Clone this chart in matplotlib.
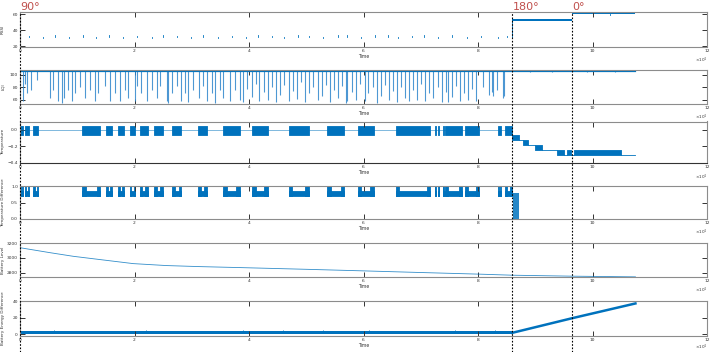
import matplotlib
matplotlib.use('Agg')
import matplotlib.pyplot as plt
import matplotlib.transforms as mtransforms
from matplotlib.lines import Line2D

BLUE = '#0072BD'  # MATLAB default line colour
LIGHT_BLUE = '#2F86CC'
RED = '#C0504D'

# Time axis is in units of 1e4
t_marks = [0.0, 8.6, 9.65]          # orientation changes
mark_labels = ['90°', '180°', '0°']
t_end = 10.75

# RSSI: (start, end, low, high) bands and small spikes (t, value)
rssi_bands = [(0.0, 8.6, 31.6, 32.4), (8.6, 9.65, 52.2, 54.0), (9.65, 10.75, 60.6, 61.6)]
rssi_spikes = [(0.15, 33.5), (0.4, 30.5), (0.62, 34.0), (0.85, 31.0), (1.1, 33.8), (1.32, 30.8),
               (1.55, 34.2), (1.8, 31.0), (2.05, 33.6), (2.3, 30.6), (2.5, 34.0), (2.75, 33.2),
               (2.98, 30.8), (3.2, 33.9), (3.45, 31.0), (3.7, 33.5), (3.95, 30.7), (4.15, 34.1),
               (4.4, 33.2), (4.62, 30.9), (4.85, 34.3), (5.05, 33.6), (5.3, 31.0), (5.55, 34.0),
               (5.72, 34.5), (5.95, 30.8), (6.2, 33.8), (6.42, 34.4), (6.6, 31.0), (6.85, 33.7),
               (7.05, 34.0), (7.3, 30.8), (7.55, 33.9), (7.8, 31.1), (8.05, 33.6), (8.35, 30.9),
               (8.5, 33.5), (9.8, 60.0), (10.05, 60.2), (10.3, 59.8), (10.55, 60.1)]

# LQI: baseline and dips (t, min value)
lqi_base = 107
lqi_dips = [(0.05, 58), (0.09, 85), (0.13, 70), (0.20, 75), (0.29, 92), (0.52, 63), (0.57, 75),
            (0.67, 58), (0.73, 55), (0.76, 62), (0.84, 75), (0.90, 58), (0.96, 70), (1.05, 80),
            (1.14, 62), (1.22, 75), (1.31, 58), (1.37, 70), (1.48, 82), (1.57, 58), (1.66, 70),
            (1.75, 58), (1.83, 75), (1.89, 62), (2.01, 58), (2.04, 82), (2.12, 70), (2.21, 58),
            (2.30, 75), (2.39, 62), (2.45, 82), (2.56, 58), (2.59, 55), (2.65, 70), (2.74, 82),
            (2.82, 58), (2.88, 70), (2.94, 57), (3.03, 75), (3.12, 62), (3.20, 82), (3.26, 58),
            (3.35, 70), (3.41, 55), (3.49, 75), (3.55, 62), (3.67, 58), (3.76, 75), (3.84, 60),
            (3.90, 56), (3.97, 78), (4.05, 64), (4.12, 86), (4.18, 58), (4.26, 72), (4.33, 60),
            (4.40, 80), (4.47, 57), (4.55, 68), (4.62, 84), (4.70, 58), (4.76, 74), (4.84, 61),
            (4.91, 88), (4.98, 57), (5.05, 70), (5.12, 80), (5.20, 59), (5.27, 66), (5.34, 84),
            (5.41, 57), (5.48, 75), (5.55, 62), (5.62, 82), (5.70, 55), (5.72, 58), (5.80, 72),
            (5.87, 60), (5.94, 86), (6.02, 58), (6.08, 70), (6.16, 80), (6.23, 55), (6.30, 66),
            (6.37, 84), (6.44, 60), (6.52, 74), (6.59, 57), (6.66, 80), (6.73, 63), (6.80, 58),
            (6.87, 76), (6.94, 60), (7.01, 85), (7.08, 58), (7.15, 70), (7.22, 62), (7.30, 80),
            (7.37, 57), (7.44, 72), (7.48, 56), (7.55, 64), (7.62, 82), (7.69, 58), (7.76, 70),
            (7.83, 60), (7.90, 78), (7.97, 58), (8.09, 80), (8.20, 68), (8.24, 72), (8.27, 66),
            (8.34, 76), (8.43, 62), (8.46, 66), (8.9, 104), (9.3, 104), (9.9, 104), (10.4, 104)]

# Temperature: oscillating blocks (start, end) before the rotation, staircase after
temp_blocks = [(0.0, 0.05), (0.09, 0.16), (0.23, 0.32), (1.09, 1.40), (1.50, 1.60), (1.72, 1.82),
               (1.92, 2.01), (2.10, 2.23), (2.34, 2.50), (2.65, 2.82), (3.11, 3.27), (3.55, 3.84),
               (4.06, 4.33), (4.69, 5.04), (5.37, 5.66), (5.90, 6.18), (6.56, 7.17), (7.25, 7.26),
               (7.31, 7.32), (7.39, 7.40), (7.42, 7.72), (7.77, 8.02), (8.35, 8.40), (8.47, 8.60)]
temp_block_range = (-0.06, 0.045)
temp_steps = [(8.60, 8.72, -0.125, -0.0625), (8.72, 8.79, -0.125, -0.125),
              (8.79, 8.88, -0.1875, -0.125), (8.88, 8.99, -0.1875, -0.1875),
              (8.99, 9.12, -0.25, -0.1875), (9.12, 9.38, -0.25, -0.25),
              (9.38, 9.50, -0.3125, -0.25), (9.50, 9.56, -0.3125, -0.3125),
              (9.56, 9.62, -0.3125, -0.25), (9.62, 9.67, -0.3125, -0.3125),
              (9.67, 10.50, -0.3125, -0.25), (10.50, 10.75, -0.3125, -0.3125)]

# Temperature difference: same blocks, U-shaped between 0.7 and 1
tdiff_low, tdiff_mid, tdiff_base = 0.7, 0.85, 1.0
tdiff_drop = (8.62, 8.72, 0.8)   # vertical bars as it falls to 0

# Battery level
batt_t = [0.0, 0.52, 0.93, 1.40, 1.98, 2.56, 3.14, 3.84, 5.0, 6.0, 7.0, 8.03, 8.6, 9.65, 10.75]
batt_v = [3137, 3071, 3022, 2978, 2924, 2898, 2884, 2871, 2848, 2827, 2805, 2783, 2769, 2756, 2747]

# Battery energy difference
energy_band = (0.0, 8.6, 0.4, 3.2)
energy_spikes = [(0.6, 4.5), (1.3, 4.2), (2.2, 4.8), (3.0, 4.3), (3.9, 4.6), (4.6, 5.2),
                 (5.3, 4.4), (6.1, 4.7), (6.9, 4.3), (7.6, 4.9), (8.3, 4.4)]
energy_t = [8.6, 9.65, 10.75]
energy_v = [1.5, 19.5, 37.5]

ylabels = ['RSSI', 'LQI', 'Temperature', 'Temperature Difference', 'Battery Level',
           'Battery Energy Difference']
ylims = [(20, 63), (53, 108), (-0.4, 0.1), (0, 1.02), (2745, 3200), (-1.8, 40.5)]
yticks = [[20, 40, 60], [60, 80, 100], [-0.4, -0.2, 0], [0, 0.5, 1], [2800, 3000, 3200],
          [0, 20, 40]]

W, H = 714, 352
fig = plt.figure(figsize=(W / 100, H / 100), dpi=100)
tops = [12, 70, 121.5, 185.5, 243, 301]
bottoms = [46.5, 104, 162.5, 219, 277, 335.5]
axes = []
for top, bot in zip(tops, bottoms):
    axes.append(fig.add_axes([20 / W, 1 - bot / H, 687 / W, (bot - top) / H]))

for i, (ax, lab, yl, yt) in enumerate(zip(axes, ylabels, ylims, yticks)):
    ax.set_xlim(0, 12)
    ax.set_ylim(*yl)
    ax.set_xticks(range(0, 13, 2))
    ax.set_yticks(yt)
    ax.tick_params(direction='in', length=3.5, width=0.7, labelsize=3.2, pad=1.5,
                   top=True, right=True, color='#333333', labelcolor='#333333')
    ax.set_xlabel('Time', fontsize=3.3, labelpad=1, color='#333333')
    ax.set_ylabel(lab, fontsize=3.0, labelpad=1, color='#333333')
    ax.yaxis.set_label_coords(-0.022, 0.5)
    for sp in ax.spines.values():
        sp.set_color('#8c8c8c')
        sp.set_linewidth(0.8)
    # last panel sits near the figure edge, keep its exponent inside
    ax.text(1.0, -0.26 if i < len(axes) - 1 else -0.2, r'$\times10^4$', transform=ax.transAxes,
            fontsize=3.0, ha='right', va='top', color='#333333')

# RSSI
ax = axes[0]
for s, e, lo, hi in rssi_bands:
    ax.fill_between([s, e], [lo, lo], [hi, hi], color=BLUE, lw=0)
ax.plot([rssi_bands[0][1], rssi_bands[1][0]], [rssi_bands[0][3], rssi_bands[1][2]], color=BLUE, lw=0.6)
for t, v in rssi_spikes:
    base = [b for b in rssi_bands if b[0] <= t < b[1]][0]
    ax.plot([t, t], [(base[2] + base[3]) / 2, v], color=BLUE, lw=0.6)

# LQI
ax = axes[1]
ax.vlines([d[0] for d in lqi_dips], [d[1] for d in lqi_dips], lqi_base, color=LIGHT_BLUE,
          lw=0.8, alpha=0.85)
ax.plot([0, t_end], [lqi_base, lqi_base], color=BLUE, lw=1.6)

# Temperature
ax = axes[2]
ax.plot([0, t_marks[1]], [0, 0], color=BLUE, lw=0.5, alpha=0.7)
for s, e in temp_blocks:
    ax.fill_between([s, e], temp_block_range[0], temp_block_range[1], color=BLUE, lw=0.6,
                    edgecolor=BLUE)
for s, e, lo, hi in temp_steps:
    if lo == hi:
        ax.plot([s, e], [lo, lo], color=BLUE, lw=0.6)
    else:
        ax.fill_between([s, e], lo, hi, color=BLUE, lw=0.6, edgecolor=BLUE)
ax.spines['bottom'].set_color('#333333')

# Temperature difference
ax = axes[3]
ax.plot([0, t_marks[1]], [tdiff_base, tdiff_base], color=BLUE, lw=0.6)
for s, e in temp_blocks:
    edge = min(0.3 * (e - s), 0.06)
    ax.fill_between([s, e], tdiff_low, tdiff_mid, color=BLUE, lw=0.6, edgecolor=BLUE)
    ax.fill_between([s, s + edge], tdiff_low, tdiff_base, color=BLUE, lw=0.6, edgecolor=BLUE)
    ax.fill_between([e - edge, e], tdiff_low, tdiff_base, color=BLUE, lw=0.6, edgecolor=BLUE)
ax.fill_between([tdiff_drop[0], tdiff_drop[1]], 0, tdiff_drop[2], color=BLUE, lw=0, alpha=0.85)
ax.plot([tdiff_drop[1], t_end], [0.01, 0.01], color=BLUE, lw=0.6)

# Battery level
axes[4].plot(batt_t, batt_v, color=BLUE, lw=0.6, alpha=0.8)

# Battery energy difference
ax = axes[5]
s, e, lo, hi = energy_band
ax.fill_between([s, e], lo, hi, color=BLUE, lw=0)
ax.vlines([p[0] for p in energy_spikes], hi, [p[1] for p in energy_spikes], color=BLUE, lw=0.6)
ax.plot(energy_t, energy_v, color=BLUE, lw=1.8)

# Orientation markers spanning all panels
trans = mtransforms.blended_transform_factory(axes[0].transData, fig.transFigure)
for t, lab in zip(t_marks, mark_labels):
    fig.add_artist(Line2D([t, t], [0, 1 - 12 / H], transform=trans, color='k',
                          lw=0.8, ls=(0, (1.5, 1.5))))
    fig.text(t, 1 - 12 / H, lab, transform=trans, color=RED, fontsize=8,
             ha='left', va='bottom')

fig.savefig('out.png', dpi=100)
